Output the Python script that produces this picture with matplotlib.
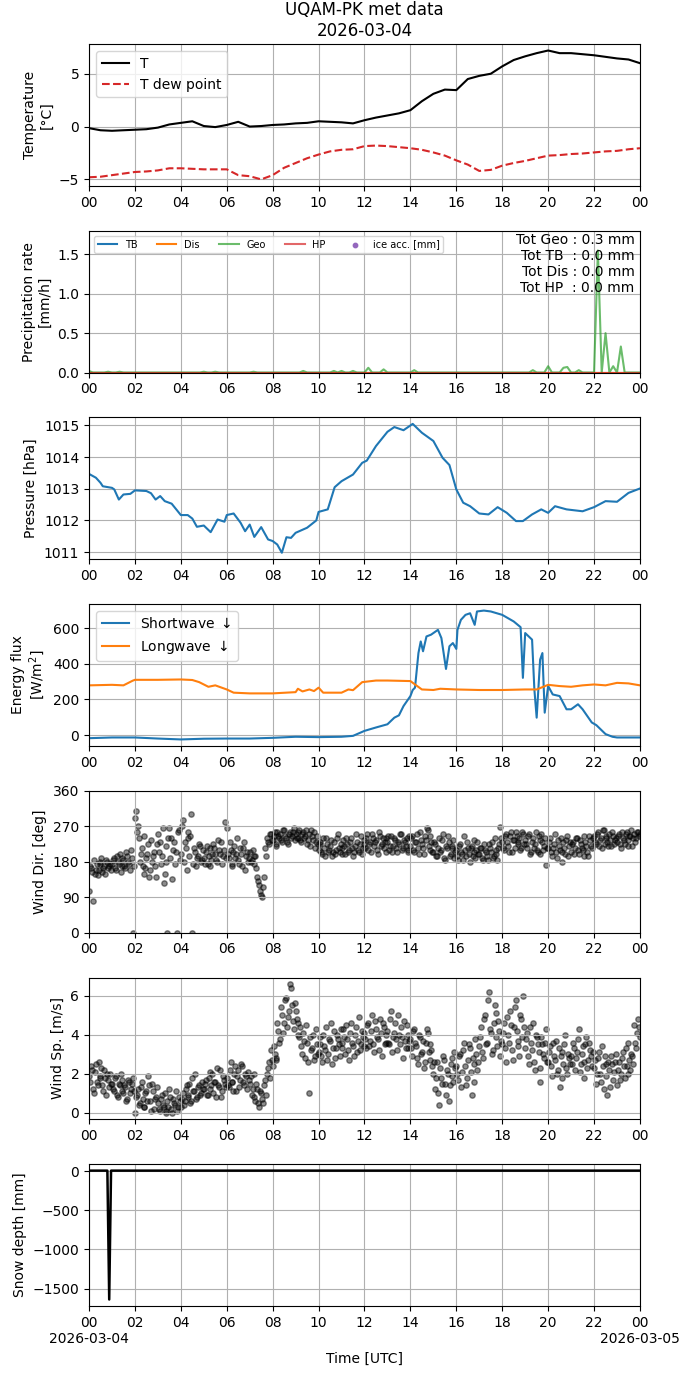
import numpy as np
import pandas as pd
import matplotlib
matplotlib.use("Agg")
import matplotlib.pyplot as plt
import matplotlib.dates as mdates

day = pd.Timestamp("2026-03-04")

# temperature, 30 min
t_hours = [i * 0.5 for i in range(49)]
temp = [-0.15, -0.35, -0.4, -0.35, -0.3, -0.25, -0.1, 0.2, 0.35, 0.5,
        0.05, -0.05, 0.15, 0.45, 0.0, 0.05, 0.15, 0.2, 0.3, 0.35,
        0.5, 0.45, 0.4, 0.3, 0.6, 0.85, 1.05, 1.25, 1.55, 2.4,
        3.1, 3.5, 3.45, 4.5, 4.8, 5.0, 5.7, 6.3, 6.65, 6.95,
        7.2, 6.95, 6.95, 6.85, 6.75, 6.6, 6.45, 6.35, 6.0]
t_dew = [-4.8, -4.75, -4.6, -4.45, -4.3, -4.25, -4.15, -3.95, -3.95, -4.0,
         -4.05, -4.05, -4.05, -4.6, -4.7, -5.0, -4.6, -3.9, -3.45, -3.0,
         -2.65, -2.35, -2.2, -2.15, -1.85, -1.8, -1.85, -1.95, -2.05, -2.2,
         -2.45, -2.75, -3.2, -3.6, -4.2, -4.1, -3.7, -3.45, -3.25, -3.0,
         -2.75, -2.7, -2.6, -2.55, -2.45, -2.35, -2.3, -2.15, -2.05]

# precipitation rate, 10 min
pr_hours = [i / 6 for i in range(145)]
geo_rate = [0.02, 0, 0, 0, 0, 0.01, 0, 0, 0.01, 0, 0, 0,
            0, 0, 0, 0, 0, 0, 0, 0, 0, 0, 0, 0,
            0, 0, 0, 0, 0, 0, 0.01, 0, 0, 0.01, 0, 0,
            0, 0, 0, 0, 0, 0, 0, 0.01, 0, 0, 0, 0,
            0, 0, 0, 0, 0, 0, 0, 0, 0.02, 0, 0, 0,
            0, 0, 0, 0, 0.02, 0, 0.02, 0, 0, 0.02, 0, 0,
            0, 0.06, 0, 0, 0, 0.04, 0, 0, 0, 0, 0, 0,
            0, 0.03, 0, 0, 0, 0, 0, 0, 0, 0, 0, 0,
            0, 0, 0, 0, 0, 0, 0, 0, 0, 0, 0, 0,
            0, 0, 0, 0, 0, 0, 0, 0, 0.03, 0, 0, 0,
            0.08, 0, 0, 0, 0.06, 0.07, 0, 0, 0.03, 0, 0, 0,
            0, 1.55, 0, 0.5, 0, 0.08, 0, 0.33, 0, 0, 0, 0,
            0]
tb_rate = [0.0] * 145
dis_rate = [0.0] * 145
hp_rate = [0.0] * 145
ice_hours = []
ice_acc = []
totals = {"Geo": 0.3, "TB": 0.0, "Dis": 0.0, "HP": 0.0}

# pressure
p_hours = [0, 0.3, 0.5, 0.6, 1.0, 1.1, 1.3, 1.5, 1.8, 2.0, 2.5, 2.7, 2.9, 3.1, 3.3,
           3.6, 4.0, 4.3, 4.5, 4.7, 5.0, 5.3, 5.6, 5.9, 6.0, 6.3, 6.6, 6.8, 7.0,
           7.2, 7.5, 7.8, 8.0, 8.2, 8.4, 8.6, 8.8, 9.0, 9.5, 9.9, 10.0, 10.4, 10.7,
           11.0, 11.5, 11.9, 12.1, 12.5, 13.0, 13.3, 13.7, 14.1, 14.5, 15.0, 15.4,
           15.7, 16.0, 16.3, 16.6, 17.0, 17.4, 17.8, 18.2, 18.6, 18.9, 19.3, 19.7,
           20.0, 20.3, 20.8, 21.5, 22.0, 22.5, 23.0, 23.5, 24.0]
pres = [1013.47, 1013.35, 1013.19, 1013.08, 1013.03, 1012.98, 1012.66, 1012.82,
        1012.84, 1012.95, 1012.93, 1012.86, 1012.66, 1012.77, 1012.61, 1012.53,
        1012.17, 1012.17, 1012.06, 1011.80, 1011.84, 1011.63, 1012.03, 1011.96,
        1012.17, 1012.22, 1011.93, 1011.66, 1011.87, 1011.48, 1011.79, 1011.40,
        1011.35, 1011.24, 1010.98, 1011.47, 1011.45, 1011.61, 1011.77, 1012.0,
        1012.27, 1012.35, 1013.05, 1013.24, 1013.45, 1013.82, 1013.89, 1014.35,
        1014.80, 1014.95, 1014.85, 1015.05, 1014.77, 1014.51, 1013.98, 1013.75,
        1012.98, 1012.56, 1012.45, 1012.22, 1012.19, 1012.42, 1012.24, 1011.98,
        1011.98, 1012.19, 1012.35, 1012.24, 1012.45, 1012.35, 1012.29, 1012.42,
        1012.61, 1012.59, 1012.87, 1013.01]

# radiation
sw_hours = [0, 1, 2, 3, 4, 5, 6, 7, 8, 9, 10, 11, 11.5, 12, 12.5, 13, 13.3, 13.5,
            13.7, 14.0, 14.1, 14.2, 14.35, 14.45, 14.55, 14.7, 14.9, 15.2, 15.35,
            15.55, 15.7, 15.85, 16.0, 16.05, 16.2, 16.4, 16.6, 16.8, 16.9, 17.2,
            17.5, 18.0, 18.5, 18.8, 18.9, 19.0, 19.3, 19.4, 19.5, 19.65, 19.75,
            19.85, 20.0, 20.2, 20.5, 20.8, 21.0, 21.3, 21.5, 21.9, 22.1, 22.5,
            22.8, 23.0, 24.0]
sw_down = [-17, -13, -13, -19, -24, -20, -19, -19, -15, -9, -11, -9, -4, 24, 43,
           61, 98, 111, 163, 219, 253, 266, 460, 525, 470, 553, 563, 590, 544,
           371, 498, 516, 483, 590, 646, 674, 683, 618, 693, 698, 693, 674, 637,
           605, 321, 572, 535, 256, 98, 423, 460, 126, 275, 228, 219, 145, 145,
           173, 145, 71, 56, 6, -9, -13, -13]
lw_hours = [0, 1, 1.5, 1.9, 2, 3, 4, 4.5, 4.8, 5.2, 5.5, 6, 6.3, 7, 8, 9, 9.1,
            9.3, 9.6, 9.8, 10, 10.2, 11, 11.3, 11.5, 11.9, 12.5, 13, 14, 14.2,
            14.5, 15, 15.3, 16, 17, 18, 19, 19.5, 20, 20.5, 21, 21.5, 22, 22.5,
            23, 23.5, 24]
lw_down = [279, 282, 279, 305, 310, 310, 312, 309, 297, 271, 279, 256, 238, 234,
           234, 241, 260, 245, 256, 247, 266, 238, 238, 256, 252, 297, 306, 306,
           303, 284, 256, 253, 260, 256, 253, 253, 256, 256, 282, 275, 271, 279,
           284, 279, 293, 290, 279]

# wind, two interleaved 5 min sets
w_hours = [i / 12 for i in range(289)]
w_hours_b = [i / 12 + 1 / 24 for i in range(288)]
wind_dir = [105, 165, 80, 150, 175, 160, 180, 155, 170, 185, 165, 175,
            175, 190, 160, 180, 200, 170, 185, 165, 195, 175, 210, 0,
            290, 255, 240, 200, 170, 150, 190, 225, 160, 180, 205, 140,
            250, 230, 195, 125, 180, 0, 265, 240, 210, 175, 0, 260,
            200, 285, 230, 160, 255, 245, 0, 215, 170, 195, 220, 185,
            190, 205, 175, 215, 185, 225, 200, 180, 210, 230, 195, 280,
            265, 190, 210, 175, 220, 200, 185, 215, 170, 230, 195, 180,
            205, 185, 175, 195, 140, 120, 95, 115, 215, 240, 225, 250,
            235, 255, 220, 245, 250, 230, 260, 240, 225, 255, 245, 265,
            250, 240, 260, 230, 255, 245, 225, 250, 260, 235, 215, 245,
            210, 230, 200, 215, 240, 205, 220, 195, 230, 210, 250, 205,
            215, 235, 200, 225, 210, 240, 195, 220, 230, 205, 245, 215,
            225, 240, 210, 230, 250, 220, 235, 200, 245, 225, 215, 240,
            230, 210, 245, 220, 235, 205, 225, 250, 215, 230, 240, 210,
            220, 245, 205, 230, 215, 255, 225, 200, 235, 260, 210, 230,
            205, 225, 195, 240, 210, 250, 185, 215, 230, 200, 220, 190,
            210, 185, 225, 200, 245, 195, 215, 180, 220, 205, 190, 230,
            200, 215, 185, 210, 195, 225, 205, 190, 240, 200, 215, 268,
            230, 210, 250, 220, 245, 205, 235, 255, 225, 240, 215, 250,
            235, 215, 250, 205, 240, 225, 210, 245, 200, 230, 220, 171,
            215, 240, 195, 225, 205, 235, 210, 180, 230, 200, 245, 220,
            205, 230, 215, 240, 200, 225, 210, 245, 220, 195, 235, 215,
            245, 225, 255, 235, 215, 260, 240, 230, 250, 220, 245, 235,
            230, 250, 215, 240, 225, 255, 235, 245, 220, 250, 240, 255,
            250]
wind_dir_b = [170, 155, 185, 160, 145, 175, 190, 165, 150, 180, 170, 160,
              185, 165, 195, 175, 155, 190, 170, 205, 180, 160, 190, 170,
              310, 270, 180, 215, 245, 165, 200, 140, 235, 195, 170, 225,
              205, 175, 265, 150, 220, 240, 190, 135, 230, 205, 255, 185,
              270, 180, 215, 240, 195, 300, 175, 205, 190, 225, 180, 210,
              175, 220, 195, 170, 200, 215, 185, 235, 200, 175, 210, 190,
              200, 230, 170, 205, 190, 240, 175, 200, 215, 160, 205, 190,
              180, 210, 195, 165, 130, 105, 90, 140, 195, 230, 250, 235,
              245, 225, 255, 240, 235, 260, 245, 230, 250, 240, 255, 235,
              240, 255, 235, 250, 240, 260, 235, 220, 245, 255, 230, 225,
              225, 205, 240, 195, 225, 210, 235, 205, 200, 240, 215, 225,
              200, 220, 240, 205, 230, 215, 205, 250, 210, 225, 200, 235,
              215, 250, 225, 205, 240, 230, 210, 255, 220, 240, 230, 205,
              245, 220, 205, 240, 215, 230, 250, 210, 235, 220, 205, 245,
              240, 210, 230, 250, 200, 235, 215, 245, 265, 220, 245, 205,
              230, 195, 215, 205, 235, 190, 220, 245, 195, 215, 235, 205,
              195, 220, 205, 185, 210, 230, 200, 215, 195, 235, 210, 200,
              215, 190, 225, 205, 185, 215, 230, 195, 210, 185, 225, 240,
              215, 245, 230, 205, 255, 235, 215, 245, 230, 210, 255, 225,
              225, 245, 200, 230, 215, 255, 205, 235, 250, 210, 240, 215,
              230, 205, 215, 250, 190, 220, 240, 205, 215, 235, 195, 230,
              225, 200, 240, 210, 235, 215, 195, 230, 205, 245, 220, 240,
              230, 250, 220, 240, 260, 225, 245, 220, 235, 255, 225, 240,
              245, 225, 255, 235, 250, 220, 245, 260, 240, 230, 255, 245]
wind_sp = [1.9, 2.4, 1.2, 2.1, 1.6, 2.6, 1.8, 1.4, 2.2, 0.9, 1.7, 2.0,
           1.5, 1.1, 1.9, 0.8, 1.4, 1.7, 1.0, 1.3, 0.7, 1.6, 1.2, 1.8,
           0.0, 0.9, 0.4, 1.3, 0.7, 0.3, 1.1, 1.9, 0.6, 1.5, 0.2, 0.8,
           0.5, 0.1, 0.9, 0.3, 0.0, 0.6, 1.2, 0.2, 0.7, 0.4, 0.1, 0.8,
           0.3, 1.0, 0.6, 1.4, 0.8, 0.5, 1.8, 1.1, 0.7, 1.3, 0.9, 1.6,
           1.2, 1.7, 0.9, 2.1, 1.4, 1.0, 1.6, 2.3, 1.3, 0.8, 1.9, 1.5,
           1.8, 1.3, 2.6, 1.6, 2.0, 1.1, 2.2, 1.7, 2.4, 1.4, 1.9, 2.1,
           1.5, 0.9, 2.0, 0.6, 1.2, 0.3, 1.0, 0.5, 1.7, 2.0, 2.6, 3.2,
           2.4, 3.0, 2.7, 4.2, 3.8, 5.0, 4.6, 5.9, 4.9, 6.6, 5.5, 4.3,
           5.2, 4.6, 3.9, 3.4, 4.1, 2.8, 3.6, 1.0, 3.2, 4.0, 2.9, 3.5,
           3.1, 3.9, 2.6, 3.4, 4.4, 3.0, 3.7, 2.5, 4.2, 3.3, 3.8, 2.9,
           3.6, 4.3, 3.0, 3.8, 2.7, 4.6, 3.4, 4.0, 3.1, 4.9, 3.5, 3.9,
           4.1, 3.3, 4.6, 3.7, 5.0, 3.1, 4.3, 3.8, 4.8, 2.9, 4.4, 3.6,
           4.2, 3.5, 5.2, 3.9, 4.6, 3.2, 4.0, 4.4, 2.8, 3.7, 4.5, 3.3,
           3.8, 2.9, 4.3, 3.4, 2.5, 3.9, 3.1, 2.3, 3.6, 4.1, 2.7, 3.2,
           2.0, 1.2, 2.6, 0.4, 1.8, 2.9, 1.5, 2.2, 0.6, 2.5, 1.9, 3.1,
           2.4, 1.7, 3.0, 2.1, 3.6, 1.4, 2.7, 3.3, 0.9, 2.5, 3.8, 2.2,
           3.4, 4.4, 2.8, 5.0, 3.6, 6.2, 4.1, 3.2, 5.5, 3.9, 4.7, 2.9,
           3.5, 4.6, 2.6, 4.0, 5.2, 3.2, 4.4, 5.8, 3.7, 2.9, 4.8, 6.0,
           3.3, 4.1, 2.5, 3.6, 4.6, 2.2, 3.9, 3.1, 1.6, 3.5, 2.8, 4.3,
           2.6, 3.4, 1.9, 2.9, 3.7, 2.2, 1.3, 3.1, 2.5, 4.0, 2.0, 2.8,
           2.9, 3.6, 2.2, 3.1, 4.3, 2.5, 3.4, 1.8, 3.9, 2.7, 3.2, 2.4,
           2.3, 1.5, 2.8, 2.0, 3.4, 1.2, 2.5, 0.9, 2.2, 2.9, 1.7, 2.6,
           1.4, 2.6, 2.0, 3.1, 1.8, 2.4, 3.6, 2.2, 2.9, 4.5, 3.3, 4.8,
           3.9]
wind_sp_b = [1.6, 2.2, 1.0, 2.5, 1.4, 1.9, 2.3, 1.1, 1.8, 2.0, 1.3, 1.5,
             1.2, 1.8, 0.9, 1.5, 2.0, 1.1, 1.4, 0.6, 1.7, 1.0, 1.5, 1.1,
             0.8, 1.2, 0.5, 1.6, 0.3, 1.0, 0.6, 1.4, 0.1, 1.1, 0.7, 1.3,
             0.2, 0.7, 0.4, 1.0, 0.1, 0.3, 0.8, 0.0, 0.5, 1.1, 0.3, 0.6,
             0.7, 0.4, 1.2, 0.9, 1.5, 0.6, 1.1, 2.0, 0.8, 1.4, 1.0, 1.2,
             1.5, 0.9, 1.8, 1.2, 2.0, 1.6, 0.8, 1.4, 2.2, 1.1, 1.7, 1.3,
             1.4, 2.2, 1.6, 1.1, 2.4, 1.9, 1.3, 2.5, 1.6, 2.0, 1.2, 1.7,
             1.9, 1.2, 0.8, 1.5, 0.5, 1.1, 0.7, 1.4, 0.9, 2.3, 1.8, 2.7,
             3.4, 2.8, 4.6, 3.6, 5.4, 4.1, 5.8, 4.4, 5.2, 6.4, 4.7, 5.6,
             4.8, 4.0, 4.4, 3.0, 3.7, 4.5, 2.6, 3.9, 3.3, 2.7, 4.3, 3.0,
             3.5, 2.9, 4.0, 3.2, 2.7, 3.8, 4.6, 3.3, 2.8, 4.0, 3.5, 4.3,
             3.3, 3.9, 4.5, 3.2, 4.1, 3.6, 2.9, 4.4, 3.7, 3.2, 4.2, 3.4,
             3.8, 4.5, 3.4, 4.2, 3.5, 4.7, 3.9, 3.2, 4.1, 4.6, 3.5, 4.0,
             3.6, 4.8, 3.1, 4.1, 3.8, 5.0, 3.5, 3.9, 4.7, 3.3, 4.0, 3.7,
             3.3, 4.2, 3.6, 2.8, 4.0, 3.0, 3.7, 2.6, 4.3, 3.1, 3.5, 2.4,
             2.6, 1.8, 1.0, 2.3, 1.5, 2.7, 0.9, 2.0, 1.4, 2.8, 1.6, 2.3,
             2.0, 2.9, 1.3, 3.2, 2.4, 1.8, 3.5, 2.1, 2.8, 1.6, 3.0, 2.6,
             3.9, 3.1, 4.8, 3.5, 5.8, 4.3, 3.0, 4.6, 5.1, 3.4, 4.2, 3.7,
             4.1, 3.3, 4.9, 3.6, 4.5, 2.7, 5.4, 4.2, 3.4, 5.0, 3.9, 4.4,
             3.8, 2.9, 4.4, 3.2, 2.6, 4.0, 3.5, 2.3, 3.9, 3.0, 3.6, 2.6,
             3.1, 2.4, 3.6, 2.7, 2.0, 3.3, 2.9, 1.8, 3.5, 2.3, 3.0, 2.5,
             2.5, 3.3, 2.8, 3.8, 2.1, 3.0, 2.6, 3.5, 2.3, 3.6, 2.9, 3.1,
             2.7, 2.0, 3.1, 1.6, 2.4, 2.9, 1.9, 2.6, 1.3, 2.5, 2.1, 3.0,
             2.2, 1.7, 2.8, 2.4, 3.3, 2.0, 2.7, 3.0, 2.5, 3.6, 4.1, 4.4]

# snow depth
sd_hours = [0, 0.8, 0.88, 0.96, 24]
snow_depth = [5, 5, -1640, 5, 5]


def to_time(hours):
    return day + pd.to_timedelta(np.asarray(hours, dtype=float), unit="h")


fig, axes = plt.subplots(7, 1, figsize=(6.9, 13.77), dpi=100)
fig.subplots_adjust(left=0.129, right=0.9275, top=0.968, bottom=0.0516, hspace=0.317)

ax = axes[0]
ax.plot(to_time(t_hours), temp, color="k", label="T")
ax.plot(to_time(t_hours), t_dew, color="tab:red", ls="--", label="T dew point")
ax.set_ylabel("Temperature\n[°C]")
ax.legend(loc="upper left")
ax.set_title("UQAM-PK met data\n2026-03-04")

ax = axes[1]
tp = to_time(pr_hours)
ax.plot(tp, tb_rate, color="tab:blue", label="TB")
ax.plot(tp, dis_rate, color="tab:orange", label="Dis")
ax.plot(tp, geo_rate, color="tab:green", alpha=0.7, label="Geo")
ax.plot(tp, hp_rate, color="tab:red", alpha=0.7, label="HP")
ax.scatter(to_time(ice_hours), ice_acc, s=10, color="tab:purple", label="ice acc. [mm]")
ax.set_ylim(0, 1.8)
ax.set_ylabel("Precipitation rate\n[mm/h]")
ax.legend(loc="upper left", ncol=5, fontsize=7)
txt = "\n".join([f"Tot Geo : {totals['Geo']:.1f} mm",
                 f"Tot TB  : {totals['TB']:.1f} mm",
                 f"Tot Dis : {totals['Dis']:.1f} mm",
                 f"Tot HP  : {totals['HP']:.1f} mm"])
ax.text(0.99, 0.985, txt, transform=ax.transAxes, ha="right", va="top", fontsize=10)

ax = axes[2]
ax.plot(to_time(p_hours), pres, color="tab:blue")
ax.set_ylabel("Pressure [hPa]")

ax = axes[3]
ax.plot(to_time(sw_hours), sw_down, color="tab:blue", label="Shortwave $\\downarrow$")
ax.plot(to_time(lw_hours), lw_down, color="tab:orange", label="Longwave $\\downarrow$")
ax.set_ylabel("Energy flux\n[W/m$^2$]")
ax.legend(loc="upper left")

ax = axes[4]
ax.scatter(to_time(w_hours), wind_dir, s=15, color="k", alpha=0.45)
ax.scatter(to_time(w_hours_b), wind_dir_b, s=15, color="k", alpha=0.45)
ax.set_ylim(0, 360)
ax.set_yticks([0, 90, 180, 270, 360])
ax.set_ylabel("Wind Dir. [deg]")

ax = axes[5]
ax.scatter(to_time(w_hours), wind_sp, s=15, color="k", alpha=0.45)
ax.scatter(to_time(w_hours_b), wind_sp_b, s=15, color="k", alpha=0.45)
ax.set_ylabel("Wind Sp. [m/s]")

ax = axes[6]
ax.plot(to_time(sd_hours), snow_depth, color="k", lw=1.8)
ax.set_ylabel("Snow depth [mm]")
ax.set_xlabel("Time [UTC]")


def bottom_fmt(x, pos=None):
    d = mdates.num2date(x)
    if d.hour == 0:
        return d.strftime("%H\n%Y-%m-%d")
    return d.strftime("%H")


for i, ax in enumerate(axes):
    ax.set_xlim(day, day + pd.Timedelta(hours=24))
    ax.xaxis.set_major_locator(mdates.HourLocator(interval=2))
    if i == len(axes) - 1:
        ax.xaxis.set_major_formatter(plt.FuncFormatter(bottom_fmt))
    else:
        ax.xaxis.set_major_formatter(mdates.DateFormatter("%H"))
    ax.grid(True)

fig.savefig("out.png", dpi=100)
